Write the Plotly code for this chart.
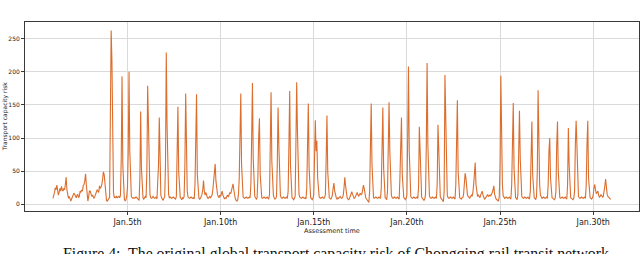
import pandas as pd
import plotly.graph_objects as go

# Hourly transport capacity risk, Jan 1 - Jan 30
start_time = "2022-01-01 00:00"

risk_days_01_10 = [
    9, 12, 18, 25, 22, 29, 20, 14, 18, 24, 20, 27, 22, 20, 24, 22, 30, 41, 22, 10, 9, 12, 8, 5,
    8, 12, 14, 17, 15, 12, 10, 14, 15, 10, 12, 20, 18, 22, 20, 28, 30, 35, 46, 30, 6, 5, 12, 20,
    20, 16, 12, 14, 10, 9, 12, 15, 18, 22, 20, 18, 28, 24, 26, 30, 38, 49, 45, 30, 10, 6, 5, 8,
    9, 10, 120, 262, 215, 70, 18, 10, 11, 10, 12, 10, 11, 12, 10, 14, 70, 193, 60, 14, 8, 5, 7, 12,
    25, 80, 200, 80, 25, 12, 10, 9, 10, 9, 10, 11, 10, 9, 8, 6, 40, 140, 55, 15, 10, 8, 10, 12,
    10, 50, 179, 110, 45, 15, 10, 9, 10, 12, 10, 9, 10, 11, 8, 30, 60, 131, 40, 14, 10, 8, 6, 9,
    12, 60, 229, 120, 40, 15, 10, 11, 10, 9, 10, 11, 10, 9, 8, 12, 60, 147, 50, 15, 10, 9, 7, 10,
    9, 12, 60, 167, 70, 20, 11, 10, 9, 10, 11, 10, 9, 10, 8, 30, 100, 166, 45, 14, 10, 8, 9, 12,
    15, 22, 36, 20, 14, 18, 12, 10, 9, 11, 12, 10, 12, 14, 22, 35, 50, 61, 35, 22, 15, 12, 10, 14,
    12, 16, 20, 14, 12, 8, 10, 9, 12, 14, 11, 15, 18, 16, 22, 28, 31, 22, 12, 8, 6, 5, 7, 15,
]

risk_days_11_20 = [
    40, 110, 167, 60, 18, 11, 10, 9, 10, 11, 10, 9, 10, 11, 10, 30, 100, 183, 70, 20, 12, 10, 8, 10,
    40, 100, 130, 45, 14, 10, 9, 10, 11, 10, 9, 10, 11, 9, 8, 15, 70, 169, 65, 30, 14, 10, 8, 9,
    12, 60, 146, 90, 35, 14, 10, 9, 10, 11, 10, 9, 10, 11, 9, 20, 90, 171, 60, 18, 10, 9, 7, 9,
    12, 90, 184, 110, 40, 15, 11, 10, 9, 10, 11, 10, 9, 10, 8, 25, 90, 152, 55, 16, 10, 9, 7, 9,
    15, 70, 127, 80, 96, 40, 15, 11, 10, 9, 10, 11, 10, 9, 10, 15, 70, 134, 50, 16, 10, 9, 8, 10,
    14, 25, 32, 20, 12, 10, 8, 10, 9, 11, 12, 10, 9, 10, 14, 25, 41, 28, 15, 10, 8, 7, 9, 12,
    14, 19, 15, 11, 9, 10, 13, 15, 18, 14, 12, 15, 17, 14, 16, 22, 29, 24, 14, 10, 8, 6, 4, 3,
    20, 80, 152, 60, 18, 10, 9, 10, 11, 10, 9, 10, 11, 10, 9, 25, 90, 146, 55, 18, 10, 9, 7, 20,
    70, 154, 80, 40, 14, 10, 9, 10, 11, 10, 9, 10, 11, 9, 8, 40, 110, 131, 45, 15, 10, 9, 7, 9,
    14, 100, 208, 80, 25, 12, 10, 9, 10, 11, 10, 9, 10, 11, 9, 25, 117, 70, 20, 11, 9, 8, 6, 8,
]

risk_days_21_30 = [
    15, 90, 213, 90, 30, 13, 10, 9, 10, 11, 10, 9, 10, 11, 9, 30, 120, 80, 30, 12, 9, 8, 6, 4,
    20, 195, 120, 40, 14, 10, 9, 10, 11, 10, 9, 10, 11, 9, 8, 30, 110, 157, 50, 16, 10, 9, 8, 10,
    10, 15, 30, 47, 40, 20, 14, 12, 10, 9, 12, 14, 12, 18, 30, 50, 63, 30, 18, 12, 14, 12, 10, 14,
    18, 20, 14, 10, 8, 9, 11, 13, 15, 12, 13, 14, 13, 15, 18, 22, 28, 15, 9, 8, 7, 6, 5, 12,
    60, 194, 90, 30, 13, 10, 9, 10, 11, 10, 9, 10, 11, 9, 8, 30, 90, 153, 55, 17, 10, 9, 7, 15,
    60, 141, 70, 25, 12, 10, 9, 10, 11, 10, 9, 10, 11, 9, 8, 20, 80, 125, 45, 14, 10, 9, 7, 12,
    50, 172, 80, 30, 14, 10, 9, 10, 11, 10, 9, 10, 11, 9, 30, 80, 100, 40, 14, 10, 9, 8, 7, 9,
    20, 90, 125, 50, 18, 10, 9, 10, 11, 10, 9, 10, 11, 9, 8, 30, 115, 60, 18, 10, 9, 8, 7, 9,
    20, 90, 126, 90, 25, 12, 10, 9, 10, 11, 10, 9, 10, 11, 9, 30, 90, 126, 40, 14, 10, 9, 8, 10,
    14, 25, 30, 22, 16, 18, 20, 14, 11, 12, 15, 13, 11, 12, 18, 28, 38, 25, 15, 12, 10, 9, 8, 8,
]

tick_dates = ["2022-01-05", "2022-01-10", "2022-01-15", "2022-01-20", "2022-01-25", "2022-01-30"]
tick_labels = ["Jan.5th", "Jan.10th", "Jan.15th", "Jan.20th", "Jan.25th", "Jan.30th"]
y_ticks = [0, 50, 100, 150, 200, 250]

risk = risk_days_01_10 + risk_days_11_20 + risk_days_21_30
times = pd.date_range(start_time, periods=len(risk), freq="h")

fig = go.Figure()
fig.add_trace(go.Scatter(
    x=times, y=risk, mode="lines",
    line=dict(color="#db6e2e", width=1.1),
    showlegend=False,
))

grid = "#dadada"
frame = "#3a3a3a"
fig.update_layout(
    width=640, height=254,
    margin=dict(l=25, r=1, t=22, b=43),
    paper_bgcolor="white", plot_bgcolor="white",
    font=dict(family="DejaVu Sans", color="#222"),
    xaxis=dict(
        type="date",
        range=["2021-12-30 12:00", "2022-02-01 11:00"],
        tickmode="array", tickvals=tick_dates, ticktext=tick_labels,
        tickfont=dict(size=8),
        showgrid=True, gridcolor=grid, gridwidth=1,
        showline=True, linecolor=frame, linewidth=1, mirror=True,
        ticks="outside", ticklen=3, tickcolor=frame,
        zeroline=False, automargin=False,
    ),
    yaxis=dict(
        range=[-10, 275],
        tickmode="array", tickvals=y_ticks,
        tickfont=dict(size=6),
        showgrid=True, gridcolor=grid, gridwidth=1,
        showline=True, linecolor=frame, linewidth=1, mirror=True,
        ticks="outside", ticklen=3, tickcolor=frame,
        zeroline=False, automargin=False,
    ),
    annotations=[
        dict(text="Assessment time", xref="paper", yref="paper", x=0.5, y=-0.108,
             xanchor="center", yanchor="middle", showarrow=False,
             font=dict(size=6.5, family="DejaVu Sans", color="#222")),
        dict(text="Transport capacity risk", xref="paper", yref="paper", x=-0.033, y=0.5,
             textangle=-90, xanchor="center", yanchor="middle", showarrow=False,
             font=dict(size=6, family="DejaVu Sans", color="#222")),
        dict(text="Figure 4:  The original global transport capacity risk of Chongqing rail transit network",
             xref="paper", yref="paper", x=0.506, y=-0.168,
             xanchor="center", yanchor="top", showarrow=False,
             font=dict(size=15.8, family="Liberation Serif", color="#111")),
    ],
)

fig.write_html(
    "out.html",
    config={"displayModeBar": False},
    post_script="document.body.style.margin='0';document.body.style.overflow='hidden';",
)
